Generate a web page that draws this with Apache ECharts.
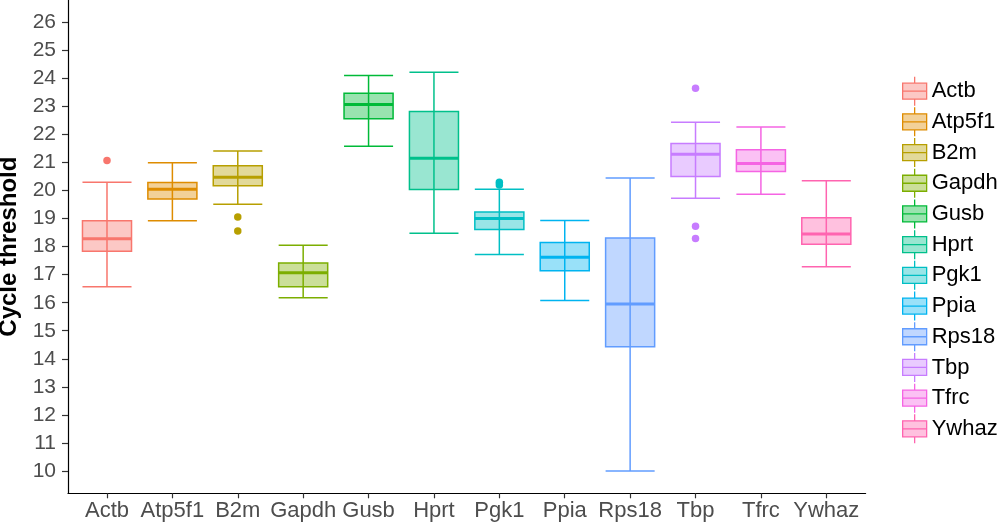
<!DOCTYPE html>
<html>
<head>
<meta charset="utf-8">
<script src="https://cdn.jsdelivr.net/npm/echarts@6/dist/echarts.min.js"></script>
<style>
html,body{margin:0;padding:0;background:#fff;}
#chart{width:1000px;height:525px;}
</style>
</head>
<body>
<div id="chart"></div>
<script>
// ---- data ----
const genes = ['Actb','Atp5f1','B2m','Gapdh','Gusb','Hprt','Pgk1','Ppia','Rps18','Tbp','Tfrc','Ywhaz'];
const whiskerLow  = [16.57, 18.92, 19.51, 16.18, 21.58, 18.48, 17.72, 16.08, 10.00, 19.73, 19.87, 17.28];
const quartile1   = [17.84, 19.70, 20.17, 16.57, 22.56, 20.04, 18.61, 17.14, 14.43, 20.50, 20.68, 18.09];
const medians     = [18.28, 20.05, 20.48, 17.07, 23.07, 21.15, 19.00, 17.62, 15.95, 21.30, 20.97, 18.45];
const quartile3   = [18.92, 20.29, 20.89, 17.42, 23.47, 22.82, 19.24, 18.15, 18.31, 21.68, 21.46, 19.03];
const whiskerHigh = [20.30, 20.99, 21.41, 18.05, 24.11, 24.22, 20.05, 18.93, 20.45, 22.44, 22.27, 20.35];
const outlierGene  = ['Actb','B2m','B2m','Pgk1','Pgk1','Tbp','Tbp','Tbp'];
const outlierValue = [21.07, 19.06, 18.56, 20.30, 20.20, 23.65, 18.73, 18.29];
const yTicks = [10,11,12,13,14,15,16,17,18,19,20,21,22,23,24,25,26];
const yTitle = 'Cycle threshold';

// ---- styles ----
const palette = ['#F8766D','#DE8C00','#B79F00','#7CAE00','#00BA38','#00C08B','#00BFC4','#00B4F0','#619CFF','#C77CFF','#F564E3','#FF64B0'];
function fillOf(hex, a){
  const r=parseInt(hex.slice(1,3),16), g=parseInt(hex.slice(3,5),16), b=parseInt(hex.slice(5,7),16);
  return 'rgba('+r+','+g+','+b+','+a+')';
}
const FILL_ALPHA = 0.4;
const Y_MIN = 9.2, Y_MAX = 26.8;
const FONT = '"Liberation Sans", Arial, Helvetica, sans-serif';

const chart = echarts.init(document.getElementById('chart'), null, {renderer:'canvas'});

function renderBox(params, api){
  const i = params.seriesIndex;
  const col = palette[i];
  const x = api.value(0);
  const band = api.size([1,0])[0];
  const hw = band * 0.75 / 2;
  const pMin = api.coord([x, api.value(1)]);
  const pQ1  = api.coord([x, api.value(2)]);
  const pMed = api.coord([x, api.value(3)]);
  const pQ3  = api.coord([x, api.value(4)]);
  const pMax = api.coord([x, api.value(5)]);
  const cx = pMin[0];
  const ls = {stroke: col, lineWidth: 1.5};
  return {
    type:'group',
    children:[
      {type:'line', shape:{x1:cx, y1:pMax[1], x2:cx, y2:pMin[1]}, style:ls},
      {type:'line', shape:{x1:cx-hw, y1:pMax[1], x2:cx+hw, y2:pMax[1]}, style:ls},
      {type:'line', shape:{x1:cx-hw, y1:pMin[1], x2:cx+hw, y2:pMin[1]}, style:ls},
      {type:'rect', shape:{x:cx-hw, y:pQ3[1], width:2*hw, height:pQ1[1]-pQ3[1]},
        style:{fill: fillOf(col, FILL_ALPHA), stroke: col, lineWidth:1.5}},
      {type:'line', shape:{x1:cx-hw, y1:pMed[1], x2:cx+hw, y2:pMed[1]}, style:{stroke: col, lineWidth:3}}
    ]
  };
}

const boxSeries = genes.map((g, i) => ({
  name: g,
  type: 'custom',
  xAxisIndex: 1,
  yAxisIndex: 1,
  renderItem: renderBox,
  encode: {x: 0, y: [1,2,3,4,5]},
  itemStyle: {color: fillOf(palette[i], FILL_ALPHA), borderColor: palette[i], borderWidth: 1.5},
  data: [[i, whiskerLow[i], quartile1[i], medians[i], quartile3[i], whiskerHigh[i]]],
  z: 2
}));

const outlierSeries = {
  name: 'outliers',
  type: 'scatter',
  xAxisIndex: 1,
  yAxisIndex: 1,
  symbol: 'circle',
  symbolSize: 7.5,
  data: outlierGene.map((g, k) => {
    const i = genes.indexOf(g);
    return {value: [i, outlierValue[k]], itemStyle: {color: palette[i], opacity: 1}};
  }),
  z: 3
};

const legendIcon = 'path://M0 6.5 L24 6.5 L24 22.5 L0 22.5 Z M0 14.5 L24 14.5 M12 0 L12 6.5 M12 22.5 L12 29';

const option = {
  animation: false,
  backgroundColor: '#ffffff',
  textStyle: {fontFamily: FONT},
  grid: [
    {left: 68, right: 134.4, top: 0, bottom: 31.7, containLabel: false, outerBoundsMode: 'none'},
    {left: 74.3, right: 141, top: 0, bottom: 31.7, containLabel: false, outerBoundsMode: 'none'}
  ],
  legend: {
    orient: 'vertical',
    left: 897,
    top: 71,
    itemWidth: 24,
    itemHeight: 29,
    itemGap: 0.4,
    selectedMode: false,
    textStyle: {fontSize: 22, color: '#000000', fontFamily: FONT},
    data: genes.map((g, i) => ({
      name: g,
      icon: legendIcon,
      itemStyle: {color: fillOf(palette[i], FILL_ALPHA), borderColor: palette[i], borderWidth: 1.3}
    }))
  },
  xAxis: [
    {
      type: 'value', gridIndex: 0, min: 0, max: 1,
      axisLine: {show: true, lineStyle: {color: '#000000', width: 1.2}},
      axisTick: {show: false}, axisLabel: {show: false}, splitLine: {show: false}
    },
    {
      type: 'category', gridIndex: 1, data: genes, boundaryGap: true,
      axisLine: {show: false},
      axisTick: {show: true, alignWithLabel: true, length: 5, lineStyle: {color: '#333333', width: 1.2}},
      axisLabel: {interval: 0, fontSize: 22, color: '#4d4d4d', margin: 7, fontFamily: FONT},
      splitLine: {show: false}
    }
  ],
  yAxis: [
    {
      type: 'value', gridIndex: 0, min: Y_MIN, max: Y_MAX,
      name: yTitle, nameLocation: 'middle', nameRotate: 90, nameGap: 47,
      nameTextStyle: {fontSize: 24, fontWeight: 'bold', color: '#000000', fontFamily: FONT},
      axisLine: {show: true, lineStyle: {color: '#000000', width: 1.2}},
      axisTick: {show: true, length: 6, customValues: yTicks, lineStyle: {color: '#333333', width: 1.2}},
      axisLabel: {show: true, customValues: yTicks, fontSize: 21, color: '#4d4d4d', margin: 12, fontFamily: FONT},
      splitLine: {show: false}
    },
    {
      type: 'value', gridIndex: 1, min: Y_MIN, max: Y_MAX, show: false,
      splitLine: {show: false}
    }
  ],
  series: boxSeries.concat([outlierSeries])
};
chart.setOption(option);
</script>
</body>
</html>
